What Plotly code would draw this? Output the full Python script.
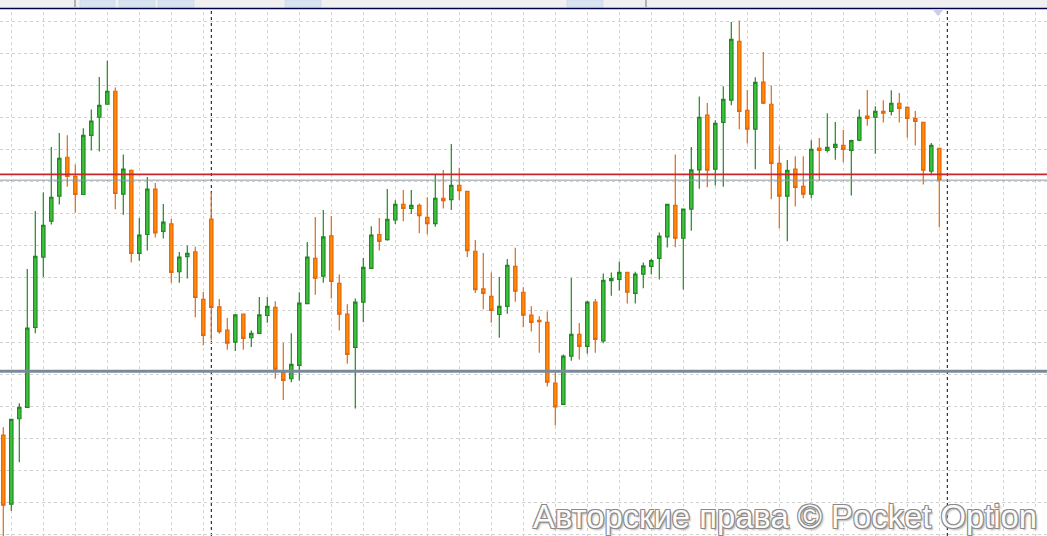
import plotly.graph_objects as go

# Candle values (chart points; higher = higher price)
open_pts = [295, 93, 343, 376, 610, 816, 921, 994, 1108, 1052,
            999, 1172, 1225, 1263, 1301, 1000, 1070, 827, 882, 1015,
            891, 913, 773, 817, 831, 692, 927, 670, 602, 567,
            649, 580, 593, 645, 669, 478, 460, 499, 680, 812,
            760, 878, 739, 649, 552, 684, 783, 882, 867, 925,
            970, 958, 967, 932, 914, 988, 984, 1026, 1008, 833,
            723, 701, 648, 672, 789, 713, 646, 631, 625, 447,
            385, 526, 590, 555, 684, 571, 747, 751, 771, 710,
            766, 789, 812, 875, 967, 871, 956, 1071, 1231, 1073,
            1210, 1275, 1447, 1245, 1190, 1328, 1263, 1090, 994, 1073,
            1023, 1000, 1135, 1128, 1137, 1143, 1128, 1158, 1228, 1225,
            1242, 1242, 1266, 1254, 1222, 1210, 1067, 1134]
high_pts = [318, 343, 388, 781, 951, 1005, 1138, 1179, 1172, 1087,
            1193, 1248, 1343, 1390, 1312, 1116, 1072, 930, 1050, 1033,
            971, 927, 831, 850, 846, 714, 1005, 693, 638, 649,
            651, 601, 699, 699, 687, 565, 593, 713, 860, 933,
            954, 936, 765, 678, 695, 813, 906, 930, 1015, 982,
            1012, 1012, 973, 991, 1057, 1071, 1147, 1077, 1010, 866,
            828, 771, 758, 810, 843, 728, 672, 643, 657, 478,
            531, 755, 623, 688, 693, 768, 771, 803, 773, 773,
            800, 811, 888, 972, 1116, 958, 1138, 1286, 1267, 1216,
            1316, 1504, 1508, 1305, 1342, 1416, 1318, 1140, 1100, 1111,
            1111, 1158, 1164, 1237, 1211, 1188, 1159, 1248, 1305, 1257,
            1275, 1304, 1296, 1257, 1243, 1212, 1150, 1136]
low_pts = [-32, 73, 216, 376, 593, 758, 911, 970, 1022, 946,
           999, 1128, 1125, 1263, 956, 940, 800, 805, 835, 873,
           870, 741, 741, 753, 640, 558, 572, 592, 545, 541,
           545, 553, 593, 624, 460, 398, 450, 455, 678, 706,
           741, 695, 601, 504, 373, 625, 783, 835, 864, 913,
           921, 942, 886, 883, 905, 958, 954, 983, 816, 711,
           663, 624, 580, 650, 685, 611, 598, 536, 437, 323,
           385, 513, 516, 533, 536, 564, 703, 718, 680, 680,
           725, 765, 750, 844, 845, 721, 893, 1016, 1020, 1025,
           1022, 1260, 1190, 1148, 1073, 1264, 985, 900, 862, 964,
           988, 988, 1041, 1122, 1101, 1093, 996, 1155, 1200, 1118,
           1210, 1230, 1210, 1165, 1142, 1028, 1055, 903]
close_pts = [90, 341, 376, 608, 818, 909, 991, 1105, 1052, 999,
             1172, 1214, 1260, 1301, 1002, 1073, 827, 880, 1015, 887,
             918, 771, 816, 827, 698, 587, 669, 598, 564, 647,
             578, 593, 647, 672, 488, 455, 502, 681, 816, 754,
             875, 745, 649, 531, 684, 786, 880, 862, 926, 970,
             958, 967, 937, 914, 988, 981, 1026, 1010, 835, 721,
             710, 660, 672, 792, 716, 646, 625, 627, 450, 378,
             526, 590, 555, 684, 575, 748, 753, 771, 713, 766,
             790, 806, 877, 970, 871, 956, 1071, 1225, 1070, 1207,
             1277, 1453, 1242, 1190, 1327, 1266, 1090, 994, 1070, 1020,
             1000, 1131, 1128, 1137, 1146, 1131, 1157, 1225, 1222, 1242,
             1237, 1266, 1251, 1222, 1213, 1070, 1143, 1041]
bar_index = list(range(len(open_pts)))

red_level = 1058
bid_level = close_pts[-1]
support_level = 482
separator_bars = [26, 118]
watermark = "Авторские права © Pocket Option"

W, H = 1047, 536

def px(x):
    return x / W

def py(y):
    return 1 - y / H

fig = go.Figure(go.Candlestick(
    x=bar_index, open=open_pts, high=high_pts, low=low_pts, close=close_pts,
    increasing=dict(line=dict(color="#1f8a1f", width=1.2), fillcolor="#3cc43c"),
    decreasing=dict(line=dict(color="#e8660c", width=1.2), fillcolor="#ff8a00"),
    whiskerwidth=0, hoverinfo="skip", showlegend=False,
))

shapes = []
# period separators (behind candles)
for b in separator_bars:
    shapes.append(dict(type="line", xref="x", yref="paper", x0=b, x1=b, y0=0, y1=py(9),
                       line=dict(color="#000038", width=1, dash="3px,3px"), layer="below"))
# horizontal levels
shapes.append(dict(type="line", xref="paper", yref="y", x0=0, x1=1, y0=red_level, y1=red_level,
                   line=dict(color="#c8262b", width=1.6), layer="above"))
shapes.append(dict(type="line", xref="paper", yref="y", x0=0, x1=1, y0=bid_level, y1=bid_level,
                   line=dict(color="#8c9aa4", width=1), layer="above"))
shapes.append(dict(type="line", xref="paper", yref="y", x0=0, x1=1, y0=support_level, y1=support_level,
                   line=dict(color="#7a8a98", width=3), layer="above"))
# top strip
shapes.append(dict(type="rect", xref="paper", yref="paper", x0=0, x1=1, y0=py(8), y1=1,
                   fillcolor="#f0f0f0", line=dict(width=0), layer="above"))
for x0, x1 in [(80, 115), (119, 155), (158, 194), (285, 321), (567, 603)]:
    shapes.append(dict(type="rect", xref="paper", yref="paper", x0=px(x0), x1=px(x1), y0=py(7), y1=1,
                       fillcolor="#d8e4f0", line=dict(color="#c4d2e0", width=0.5), layer="above"))
for x in [75, 646]:
    shapes.append(dict(type="line", xref="paper", yref="paper", x0=px(x), x1=px(x), y0=py(7), y1=1,
                       line=dict(color="#777777", width=1), layer="above"))
shapes.append(dict(type="line", xref="paper", yref="paper", x0=0, x1=1, y0=py(8.5), y1=py(8.5),
                   line=dict(color="#00004a", width=1.5), layer="above"))
shapes.append(dict(type="path", xref="paper", yref="paper",
                   path=f"M {px(932)},{py(9)} L {px(944)},{py(9)} L {px(938)},{py(16)} Z",
                   fillcolor="#cccce8", line=dict(width=0), layer="above"))

fig.update_layout(
    width=W, height=H, margin=dict(l=0, r=0, t=0, b=0),
    paper_bgcolor="white", plot_bgcolor="white",
    boxgap=0.4, shapes=shapes, showlegend=False,
    xaxis=dict(range=[-0.4125, 130.4625], showticklabels=False, zeroline=False, showline=False,
               showgrid=True, gridcolor="#d2d2d2", griddash="3px,3px", gridwidth=1,
               tick0=1, dtick=4, rangeslider=dict(visible=False), fixedrange=True),
    yaxis=dict(range=[0, 1568], showticklabels=False, zeroline=False, showline=False,
               showgrid=True, gridcolor="#d2d2d2", griddash="3px,3px", gridwidth=1,
               tick0=4, dtick=93.875, fixedrange=True),
    annotations=[dict(
        text=watermark, xref="paper", yref="paper", x=px(531), y=py(516),
        xanchor="left", yanchor="middle", showarrow=False,
        font=dict(family="Liberation Sans, Arial, sans-serif", size=32.8, color="#fbfbfb",
                  shadow="1px 1px 0 #8a8a8a, -1px -1px 0 #8a8a8a, 1px -1px 0 #8a8a8a, -1px 1px 0 #8a8a8a, 2px 2px 2px #b0b0b0"),
    )],
)

fig.write_html("out.html", config={"displayModeBar": False, "staticPlot": True},
               post_script="document.body.style.margin='0px';document.body.style.overflow='hidden';")
